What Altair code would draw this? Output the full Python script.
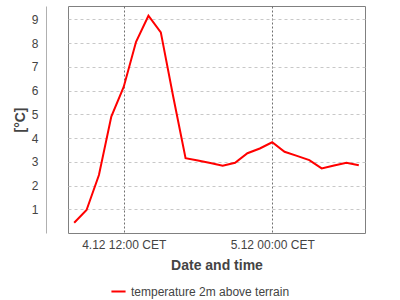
import altair as alt
import pandas as pd

times = [
    "2016-12-04T08:00:00", "2016-12-04T09:00:00", "2016-12-04T10:00:00", "2016-12-04T11:00:00",
    "2016-12-04T12:00:00", "2016-12-04T13:00:00", "2016-12-04T14:00:00", "2016-12-04T15:00:00",
    "2016-12-04T16:00:00", "2016-12-04T17:00:00", "2016-12-04T18:00:00", "2016-12-04T19:00:00",
    "2016-12-04T20:00:00", "2016-12-04T21:00:00", "2016-12-04T22:00:00", "2016-12-04T23:00:00",
    "2016-12-05T00:00:00", "2016-12-05T01:00:00", "2016-12-05T02:00:00", "2016-12-05T03:00:00",
    "2016-12-05T04:00:00", "2016-12-05T05:00:00", "2016-12-05T06:00:00", "2016-12-05T07:00:00",
]
temps = [
    0.43, 0.97, 2.44, 4.9, 6.15, 8.05, 9.15, 8.45,
    5.75, 3.15, 3.05, 2.95, 2.83, 2.96, 3.36, 3.56,
    3.82, 3.42, 3.25, 3.07, 2.72, 2.84, 2.96, 2.85,
]
series_name = "temperature 2m above terrain"
y_ticks = [1, 2, 3, 4, 5, 6, 7, 8, 9]

df = pd.DataFrame({"time": times, "temp": temps, "series": series_name})

FONT = "Liberation Sans"

chart = alt.Chart(df).mark_line(strokeWidth=2).encode(
    x=alt.X(
        "time:T",
        title="Date and time",
        scale=alt.Scale(domain=[
            alt.DateTime(year=2016, month=12, date=4, hours=7, minutes=30),
            alt.DateTime(year=2016, month=12, date=5, hours=7, minutes=30),
        ]),
        axis=alt.Axis(
            values=[
                alt.DateTime(year=2016, month=12, date=4, hours=12),
                alt.DateTime(year=2016, month=12, date=5, hours=0),
            ],
            labelExpr="timeFormat(datum.value, '%-d.%m %H:%M') + ' CET'",
            domain=False, ticks=False, tickSize=0, labelPadding=6,
            grid=True, gridColor="#707070", gridDash=[2, 2], gridWidth=1,
            labelFont=FONT, labelFontSize=12, labelColor="#444444",
            titleFont=FONT, titleFontSize=14, titleFontWeight="bold", titleColor="#444444",
            titlePadding=8,
        ),
    ),
    y=alt.Y(
        "temp:Q",
        title="[°C]",
        scale=alt.Scale(domain=[0, 9.56], nice=False, zero=False),
        axis=alt.Axis(
            values=y_ticks, offset=22,
            domain=True, domainColor="#b0b0b0", domainWidth=1,
            ticks=False, tickSize=0, labelPadding=8,
            grid=True, gridColor="#c8c8c8", gridDash=[3, 3], gridWidth=1,
            labelFont=FONT, labelFontSize=12, labelColor="#444444",
            titleFont=FONT, titleFontSize=14, titleFontWeight="bold", titleColor="#444444",
            titlePadding=4,
        ),
    ),
    color=alt.Color(
        "series:N",
        scale=alt.Scale(domain=[series_name], range=["#ff0000"]),
        legend=alt.Legend(
            title=None, orient="none", legendX=42, legendY=277,
            symbolType="stroke", symbolStrokeWidth=2, symbolSize=200,
            labelFont=FONT, labelFontSize=12, labelColor="#444444",
        ),
    ),
).properties(
    width=297, height=227,
    autosize=alt.AutoSizeParams(type="none"),
    padding={"left": 68, "top": 6, "right": 35, "bottom": 67},
).configure(
    background="white",
    view=alt.ViewConfig(stroke="#808080", strokeWidth=1),
)

chart.save("out.html", embed_options={"renderer": "svg", "actions": False})
